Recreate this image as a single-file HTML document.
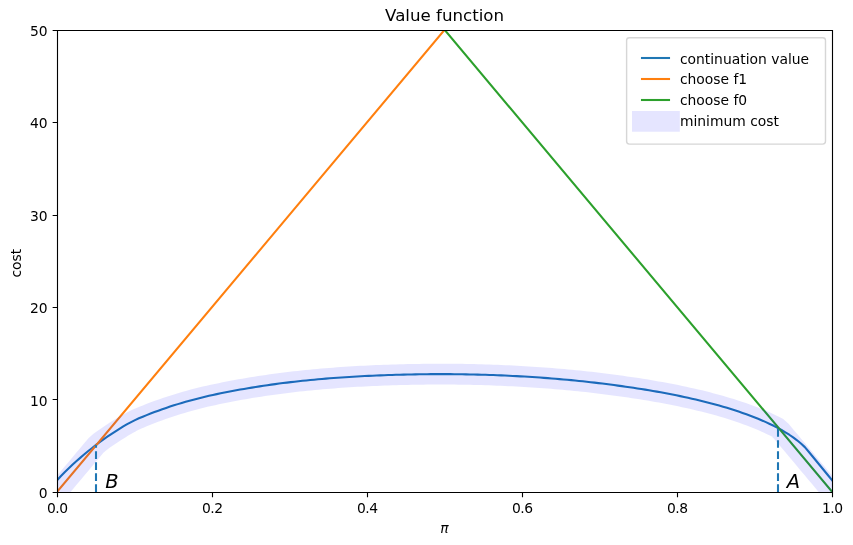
<!DOCTYPE html>
<html><head><meta charset="utf-8"><title>Value function</title>
<style>html,body{margin:0;padding:0;background:#fff;overflow:hidden}svg{display:block;will-change:transform}</style>
</head><body>
<svg width="853" height="545" viewBox="0 0 853 545">
<rect width="853" height="545" fill="#fff"/>
<defs><clipPath id="ax"><rect x="57" y="30" width="775" height="462"/></clipPath></defs>
<g clip-path="url(#ax)" fill="none" stroke-linejoin="round" stroke-linecap="square">
<path d="M57.1,480.25 L60.99,476.02 L64.89,472.03 L68.78,468.23 L72.68,464.56 L76.57,461.03 L80.47,457.6 L84.36,454.27 L88.26,451.05 L92.15,447.95 L96.04,444.94 L99.94,442.02 L103.83,439.19 L107.73,436.46 L111.62,433.82 L115.52,431.27 L119.41,428.82 L123.31,426.46 L127.2,424.2 L131.09,422.06 L134.99,420.08 L138.88,418.3 L142.78,416.67 L146.67,415.09 L150.57,413.56 L154.46,412.08 L158.36,410.65 L162.25,409.25 L166.15,407.91 L170.04,406.6 L173.93,405.34 L177.83,404.12 L181.72,402.95 L185.62,401.81 L189.51,400.71 L193.41,399.65 L197.3,398.64 L201.2,397.66 L205.09,396.73 L208.98,395.83 L212.88,394.97 L216.77,394.14 L220.67,393.33 L224.56,392.54 L228.46,391.78 L232.35,391.03 L236.25,390.31 L240.14,389.6 L244.03,388.92 L247.93,388.25 L251.82,387.6 L255.72,386.97 L259.61,386.36 L263.51,385.77 L267.4,385.2 L271.3,384.64 L275.19,384.1 L279.08,383.58 L282.98,383.08 L286.87,382.6 L290.77,382.13 L294.66,381.68 L298.56,381.25 L302.45,380.83 L306.35,380.43 L310.24,380.04 L314.14,379.67 L318.03,379.31 L321.92,378.97 L325.82,378.64 L329.71,378.32 L333.61,378.02 L337.5,377.73 L341.4,377.45 L345.29,377.19 L349.19,376.94 L353.08,376.7 L356.97,376.47 L360.87,376.26 L364.76,376.06 L368.66,375.86 L372.55,375.68 L376.45,375.51 L380.34,375.35 L384.24,375.2 L388.13,375.06 L392.02,374.93 L395.92,374.81 L399.81,374.7 L403.71,374.6 L407.6,374.51 L411.5,374.42 L415.39,374.35 L419.29,374.29 L423.18,374.24 L427.07,374.2 L430.97,374.16 L434.86,374.14 L438.76,374.13 L442.65,374.13 L446.55,374.14 L450.44,374.16 L454.34,374.19 L458.23,374.23 L462.13,374.28 L466.02,374.35 L469.91,374.42 L473.81,374.5 L477.7,374.6 L481.6,374.7 L485.49,374.81 L489.39,374.94 L493.28,375.08 L497.18,375.23 L501.07,375.39 L504.96,375.55 L508.86,375.74 L512.75,375.93 L516.65,376.13 L520.54,376.34 L524.44,376.56 L528.33,376.8 L532.23,377.05 L536.12,377.3 L540.01,377.57 L543.91,377.85 L547.8,378.14 L551.7,378.45 L555.59,378.76 L559.49,379.09 L563.38,379.43 L567.28,379.78 L571.17,380.14 L575.06,380.52 L578.96,380.92 L582.85,381.33 L586.75,381.75 L590.64,382.19 L594.54,382.64 L598.43,383.1 L602.33,383.57 L606.22,384.06 L610.12,384.56 L614.01,385.07 L617.9,385.6 L621.8,386.14 L625.69,386.69 L629.59,387.25 L633.48,387.83 L637.38,388.42 L641.27,389.03 L645.17,389.65 L649.06,390.3 L652.95,390.96 L656.85,391.64 L660.74,392.34 L664.64,393.06 L668.53,393.8 L672.43,394.55 L676.32,395.33 L680.22,396.14 L684.11,396.96 L688,397.81 L691.9,398.68 L695.79,399.57 L699.69,400.5 L703.58,401.45 L707.48,402.43 L711.37,403.45 L715.27,404.5 L719.16,405.58 L723.05,406.7 L726.95,407.86 L730.84,409.06 L734.74,410.31 L738.63,411.6 L742.53,412.94 L746.42,414.32 L750.32,415.76 L754.21,417.27 L758.11,418.83 L762,420.46 L765.89,422.15 L769.79,423.93 L773.68,425.8 L777.58,427.81 L781.47,429.96 L785.37,432.27 L789.26,434.74 L793.16,437.39 L797.05,440.3 L800.94,443.48 L804.84,447.12 L808.73,451.71 L812.63,456.47 L816.52,461.23 L820.42,465.99 L824.31,470.75 L828.21,475.5 L832.1,480.25" stroke="#1f77b4" stroke-width="2.08"/>
<path d="M57.1,491.8 L444.6,29.8 L832.1,-432.2" stroke="#ff7f0e" stroke-width="2.08"/>
<path d="M57.1,-432.2 L444.6,29.8 L832.1,491.8" stroke="#2ca02c" stroke-width="2.08"/>
<path d="M57.1,491.8 L60.99,487.16 L64.89,482.51 L68.78,477.87 L72.68,473.23 L76.57,468.58 L80.47,463.94 L84.36,459.3 L88.26,454.65 L92.15,450.01 L96.04,445.37 L99.94,442.02 L103.83,439.19 L107.73,436.46 L111.62,433.82 L115.52,431.27 L119.41,428.82 L123.31,426.46 L127.2,424.2 L131.09,422.06 L134.99,420.08 L138.88,418.3 L142.78,416.67 L146.67,415.09 L150.57,413.56 L154.46,412.08 L158.36,410.65 L162.25,409.25 L166.15,407.91 L170.04,406.6 L173.93,405.34 L177.83,404.12 L181.72,402.95 L185.62,401.81 L189.51,400.71 L193.41,399.65 L197.3,398.64 L201.2,397.66 L205.09,396.73 L208.98,395.83 L212.88,394.97 L216.77,394.14 L220.67,393.33 L224.56,392.54 L228.46,391.78 L232.35,391.03 L236.25,390.31 L240.14,389.6 L244.03,388.92 L247.93,388.25 L251.82,387.6 L255.72,386.97 L259.61,386.36 L263.51,385.77 L267.4,385.2 L271.3,384.64 L275.19,384.1 L279.08,383.58 L282.98,383.08 L286.87,382.6 L290.77,382.13 L294.66,381.68 L298.56,381.25 L302.45,380.83 L306.35,380.43 L310.24,380.04 L314.14,379.67 L318.03,379.31 L321.92,378.97 L325.82,378.64 L329.71,378.32 L333.61,378.02 L337.5,377.73 L341.4,377.45 L345.29,377.19 L349.19,376.94 L353.08,376.7 L356.97,376.47 L360.87,376.26 L364.76,376.06 L368.66,375.86 L372.55,375.68 L376.45,375.51 L380.34,375.35 L384.24,375.2 L388.13,375.06 L392.02,374.93 L395.92,374.81 L399.81,374.7 L403.71,374.6 L407.6,374.51 L411.5,374.42 L415.39,374.35 L419.29,374.29 L423.18,374.24 L427.07,374.2 L430.97,374.16 L434.86,374.14 L438.76,374.13 L442.65,374.13 L446.55,374.14 L450.44,374.16 L454.34,374.19 L458.23,374.23 L462.13,374.28 L466.02,374.35 L469.91,374.42 L473.81,374.5 L477.7,374.6 L481.6,374.7 L485.49,374.81 L489.39,374.94 L493.28,375.08 L497.18,375.23 L501.07,375.39 L504.96,375.55 L508.86,375.74 L512.75,375.93 L516.65,376.13 L520.54,376.34 L524.44,376.56 L528.33,376.8 L532.23,377.05 L536.12,377.3 L540.01,377.57 L543.91,377.85 L547.8,378.14 L551.7,378.45 L555.59,378.76 L559.49,379.09 L563.38,379.43 L567.28,379.78 L571.17,380.14 L575.06,380.52 L578.96,380.92 L582.85,381.33 L586.75,381.75 L590.64,382.19 L594.54,382.64 L598.43,383.1 L602.33,383.57 L606.22,384.06 L610.12,384.56 L614.01,385.07 L617.9,385.6 L621.8,386.14 L625.69,386.69 L629.59,387.25 L633.48,387.83 L637.38,388.42 L641.27,389.03 L645.17,389.65 L649.06,390.3 L652.95,390.96 L656.85,391.64 L660.74,392.34 L664.64,393.06 L668.53,393.8 L672.43,394.55 L676.32,395.33 L680.22,396.14 L684.11,396.96 L688,397.81 L691.9,398.68 L695.79,399.57 L699.69,400.5 L703.58,401.45 L707.48,402.43 L711.37,403.45 L715.27,404.5 L719.16,405.58 L723.05,406.7 L726.95,407.86 L730.84,409.06 L734.74,410.31 L738.63,411.6 L742.53,412.94 L746.42,414.32 L750.32,415.76 L754.21,417.27 L758.11,418.83 L762,420.46 L765.89,422.15 L769.79,423.93 L773.68,425.8 L777.58,427.81 L781.47,431.44 L785.37,436.08 L789.26,440.72 L793.16,445.37 L797.05,450.01 L800.94,454.65 L804.84,459.3 L808.73,463.94 L812.63,468.58 L816.52,473.23 L820.42,477.87 L824.31,482.51 L828.21,487.16 L832.1,491.8" stroke="#0000ff" stroke-opacity="0.1" stroke-width="20.83"/>
</g>
<path d="M96,492 L96,445" stroke="#1f77b4" stroke-width="2.08" stroke-dasharray="7.71,3.33" stroke-dashoffset="0" fill="none"/>
<path d="M778,492 L778,427" stroke="#1f77b4" stroke-width="2.08" stroke-dasharray="7.71,3.33" stroke-dashoffset="0" fill="none"/>
<g stroke="#000" stroke-width="1.11" fill="none" stroke-linecap="square">
<path d="M57.5,492.5 L57.5,30.5 M832.5,492.5 L832.5,30.5 M57.5,492.5 L832.5,492.5 M57.5,30.5 L832.5,30.5"/>
</g>
<path d="M57.5,492.5 L57.5,497.36 M57.5,492.5 L52.64,492.5 M212.5,492.5 L212.5,497.36 M57.5,399.5 L52.64,399.5 M367.5,492.5 L367.5,497.36 M57.5,307.5 L52.64,307.5 M522.5,492.5 L522.5,497.36 M57.5,215.5 L52.64,215.5 M677.5,492.5 L677.5,497.36 M57.5,122.5 L52.64,122.5 M832.5,492.5 L832.5,497.36 M57.5,30.5 L52.64,30.5" stroke="#000" stroke-width="1.11" fill="none"/>
<g style="font-family:'DejaVu Sans',sans-serif;font-size:13.89px" fill="#000">
<text x="57.33" y="512.98" text-anchor="middle" letter-spacing="-0.45">0.0</text>
<text x="212.32" y="512.98" text-anchor="middle" letter-spacing="-0.45">0.2</text>
<text x="367.33" y="512.98" text-anchor="middle" letter-spacing="-0.45">0.4</text>
<text x="522.33" y="512.98" text-anchor="middle" letter-spacing="-0.45">0.6</text>
<text x="677.33" y="512.98" text-anchor="middle" letter-spacing="-0.45">0.8</text>
<text x="832.33" y="512.98" text-anchor="middle" letter-spacing="-0.45">1.0</text>
<text x="47.68" y="498.08" text-anchor="end">0</text>
<text x="47.68" y="405.68" text-anchor="end">10</text>
<text x="47.68" y="313.28" text-anchor="end">20</text>
<text x="47.68" y="220.88" text-anchor="end">30</text>
<text x="47.68" y="128.48" text-anchor="end">40</text>
<text x="47.68" y="36.08" text-anchor="end">50</text>
<text x="21.26" y="263.2" text-anchor="middle" transform="rotate(-90 21.26 263.2)">cost</text>
<text x="440.36" y="533.34" font-style="oblique">π</text>
</g>
<text x="444.6" y="21.47" text-anchor="middle" style="font-family:'DejaVu Sans',sans-serif;font-size:16.67px">Value function</text>
<text x="105.29" y="487.97" font-style="oblique" style="font-family:'DejaVu Sans',sans-serif;font-size:19.44px">B</text>
<text x="786.83" y="487.97" font-style="oblique" style="font-family:'DejaVu Sans',sans-serif;font-size:19.44px">A</text>
<path d="M629.38,144.1 L822.72,144.1 Q825.5,144.1 825.5,141.32 L825.5,40.48 Q825.5,37.7 822.72,37.7 L629.38,37.7 Q626.6,37.7 626.6,40.48 L626.6,141.32 Q626.6,144.1 629.38,144.1 Z" fill="#fff" opacity="0.8" stroke="#ccc" stroke-width="1.39" stroke-linejoin="miter"/>
<path d="M642,58 L669,58" stroke="#1f77b4" stroke-width="2.08" stroke-linecap="square" fill="none"/>
<text x="679.9" y="64.2" style="font-family:'DejaVu Sans',sans-serif;font-size:13.89px">continuation value</text>
<path d="M642,79 L669,79" stroke="#ff7f0e" stroke-width="2.08" stroke-linecap="square" fill="none"/>
<text x="679.9" y="84" style="font-family:'DejaVu Sans',sans-serif;font-size:13.89px">choose f1</text>
<path d="M642,100 L669,100" stroke="#2ca02c" stroke-width="2.08" stroke-linecap="square" fill="none"/>
<text x="679.9" y="104.8" style="font-family:'DejaVu Sans',sans-serif;font-size:13.89px">choose f0</text>
<path d="M642.4,121.4 L669.4,121.4" stroke="#0000ff" stroke-opacity="0.1" stroke-width="20.83" stroke-linecap="square" fill="none"/>
<text x="679.9" y="126.2" style="font-family:'DejaVu Sans',sans-serif;font-size:13.89px">minimum cost</text>
</svg>
</body></html>
